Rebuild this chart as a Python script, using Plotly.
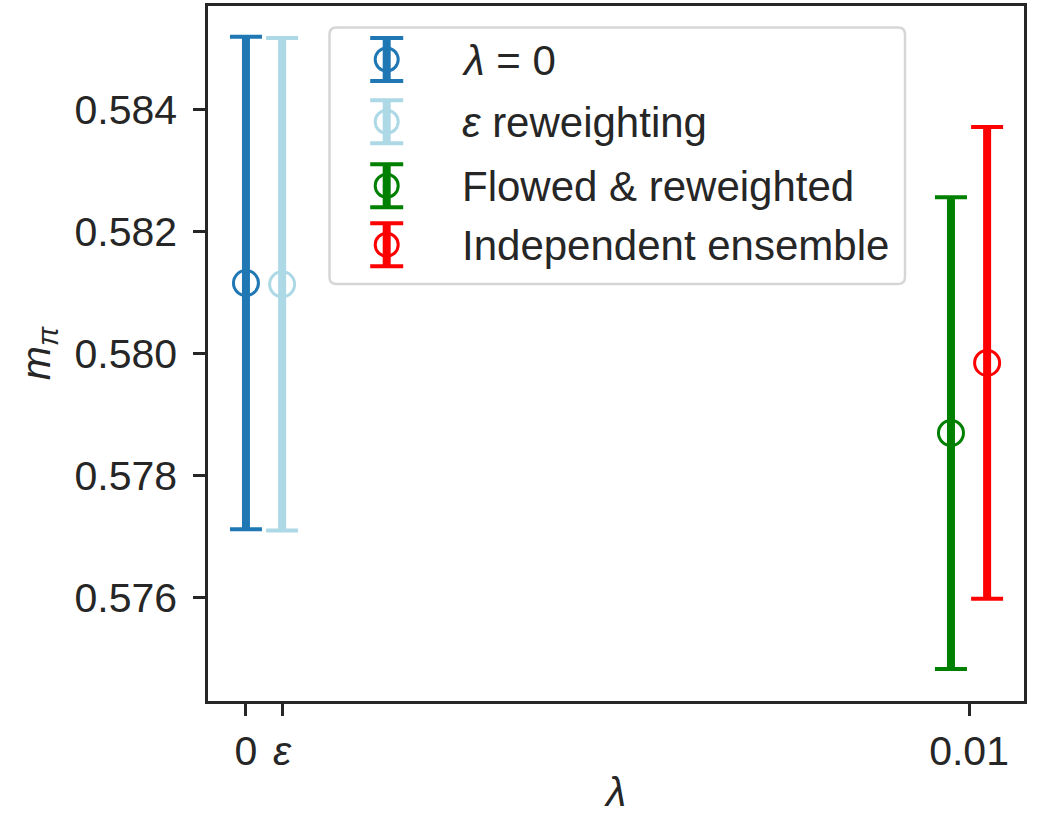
import plotly.graph_objects as go

# Data
labels = ["<i>λ</i> = 0", "<i>ε</i> reweighting", "Flowed &amp; reweighted", "Independent ensemble"]
x_vals = [0.0, 0.0005, 0.00975, 0.01025]
m_pi = [0.58116, 0.58114, 0.57870, 0.57985]
m_pi_err = [0.00404, 0.00404, 0.00387, 0.00387]
colors = ["#1f77b4", "#add8e6", "#008000", "#ff0000"]

x_tickvals = [0.0, 0.0005, 0.01]
x_ticktext = ["0", "<i>ε</i>", "0.01"]
y_tickvals = [0.576, 0.578, 0.580, 0.582, 0.584]

FONT = "Liberation Sans, Arial, sans-serif"
TXT = "#262626"
FS = 41

W, H = 1038, 815
ML, MR, MT, MB = 208, 14, 6, 114
PW, PH = W - ML - MR, H - MT - MB


def px(xp):
    return (xp - ML) / PW


def py(yp):
    return (H - MB - yp) / PH


fig = go.Figure()
for i in range(len(labels)):
    # thick vertical bar (no caps)
    fig.add_trace(go.Scatter(
        x=[x_vals[i]], y=[m_pi[i]], mode="markers",
        marker=dict(size=1, color="rgba(0,0,0,0)"),
        error_y=dict(type="data", array=[m_pi_err[i]], color=colors[i], thickness=8, width=0),
        showlegend=False, hoverinfo="skip"))
    # caps + marker
    fig.add_trace(go.Scatter(
        x=[x_vals[i]], y=[m_pi[i]], mode="markers", name=labels[i],
        marker=dict(symbol="circle-open", size=25, color=colors[i], line=dict(width=3, color=colors[i])),
        error_y=dict(type="data", array=[m_pi_err[i]], color=colors[i], thickness=4, width=16),
        showlegend=False))

# ---- legend box (drawn manually so the symbol shows the error bar) ----
shapes = []
annotations = []
bx0, bx1, by0, by1, r = 329.5, 905, 27.5, 284, 7
rx, ry = r / PW, r / PH
X0, X1, Y0, Y1 = px(bx0), px(bx1), py(by0), py(by1)
path = (f"M {X0+rx},{Y0} L {X1-rx},{Y0} Q {X1},{Y0} {X1},{Y0-ry} "
        f"L {X1},{Y1+ry} Q {X1},{Y1} {X1-rx},{Y1} L {X0+rx},{Y1} Q {X0},{Y1} {X0},{Y1+ry} "
        f"L {X0},{Y0-ry} Q {X0},{Y0} {X0+rx},{Y0} Z")
shapes.append(dict(type="path", xref="paper", yref="paper", path=path,
                   fillcolor="white", line=dict(color="#d6d6d6", width=2.5), layer="above"))

sym_x = 386.7
row_y = [59.5, 121.7, 185.7, 244.7]
cap_hw, bar_hh, circ_r = 16.5, 21.5, 11.5
for i, lab in enumerate(labels):
    cy = row_y[i]
    c = colors[i]
    shapes.append(dict(type="line", xref="paper", yref="paper",
                       x0=px(sym_x), x1=px(sym_x), y0=py(cy - bar_hh), y1=py(cy + bar_hh),
                       line=dict(color=c, width=8), layer="above"))
    for yy in (cy - bar_hh, cy + bar_hh):
        shapes.append(dict(type="line", xref="paper", yref="paper",
                           x0=px(sym_x - cap_hw), x1=px(sym_x + cap_hw), y0=py(yy), y1=py(yy),
                           line=dict(color=c, width=4), layer="above"))
    shapes.append(dict(type="circle", xref="paper", yref="paper",
                       x0=px(sym_x - circ_r), x1=px(sym_x + circ_r),
                       y0=py(cy + circ_r), y1=py(cy - circ_r),
                       line=dict(color=c, width=3), fillcolor="rgba(0,0,0,0)", layer="above"))
    annotations.append(dict(text=lab, xref="paper", yref="paper", x=px(460), y=py(cy + 0.5),
                            xanchor="left", yanchor="middle", showarrow=False,
                            font=dict(family=FONT, size=42, color=TXT)))

fig.update_layout(
    width=W, height=H,
    margin=dict(l=ML, r=MR, t=MT, b=MB),
    paper_bgcolor="white", plot_bgcolor="white",
    font=dict(family=FONT, size=FS, color=TXT),
    showlegend=False,
    shapes=shapes, annotations=annotations,
)
fig.update_xaxes(
    range=[-0.000525, 0.01076], tickvals=x_tickvals, ticktext=x_ticktext,
    ticks="outside", ticklen=12, tickwidth=2.5, tickcolor=TXT,
    showline=True, linewidth=2.5, linecolor=TXT, mirror=True,
    showgrid=False, zeroline=False, automargin=False,
    tickfont=dict(family=FONT, size=FS, color=TXT),
    title=dict(text="<i>λ</i>", font=dict(family=FONT, size=FS, color=TXT), standoff=16))
fig.update_yaxes(
    range=[0.574303, 0.585706], tickvals=y_tickvals, tickformat=".3f",
    ticks="outside", ticklen=12, tickwidth=2.5, tickcolor=TXT,
    showline=True, linewidth=2.5, linecolor=TXT, mirror=True,
    showgrid=False, zeroline=False, ticklabelstandoff=8, automargin=False,
    tickfont=dict(family=FONT, size=FS, color=TXT),
    title=dict(text="<i>m</i><sub><i>π</i></sub>", font=dict(family=FONT, size=FS, color=TXT), standoff=12))

fig.write_html("out.html")
